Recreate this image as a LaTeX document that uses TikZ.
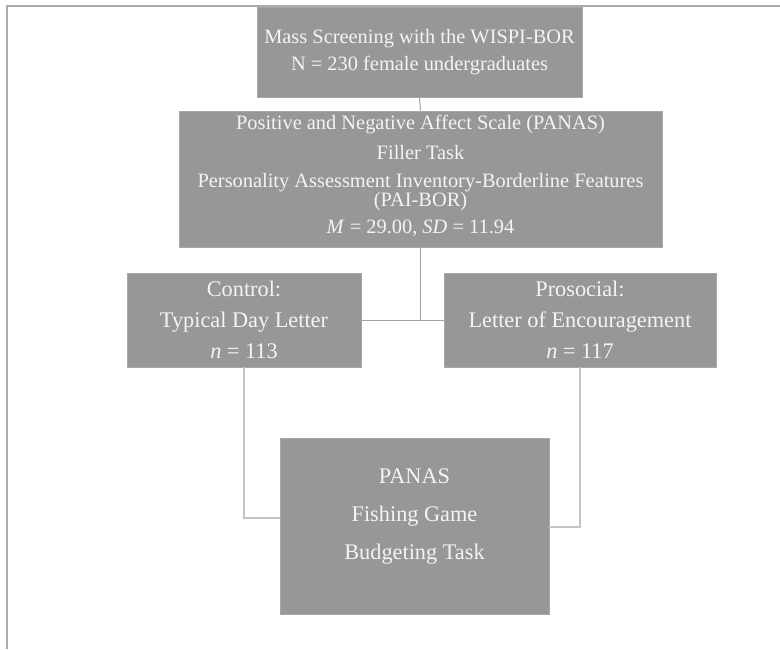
\documentclass[tikz,border=0pt]{standalone}
\usepackage{fontspec}
\setmainfont{Liberation Serif}
\definecolor{boxfill}{HTML}{979797}
\definecolor{boxtext}{HTML}{F4F4F4}
\definecolor{frameline}{HTML}{ABABAB}
\definecolor{linkdark}{HTML}{A4A4A4}
\definecolor{linklight}{HTML}{C4C4C4}
\tikzset{
  stagebox/.style={rectangle, fill=boxfill, draw=boxfill!85!white, line width=0.6pt, inner sep=0pt, align=center, text=boxtext},
  smalltext/.style={font=\fontsize{20.4}{27}\selectfont},
  bigtext/.style={font=\fontsize{22.3}{31}\selectfont},
  linkup/.style={draw=linkdark, line width=1pt},
  linkdown/.style={draw=linklight, line width=1.6pt},
  frame/.style={draw=frameline, line width=2pt}
}
\begin{document}
\begin{tikzpicture}[x=1pt,y=-1pt]
\useasboundingbox (0,0) rectangle (780,649);
\fill[white] (0,0) rectangle (780,649);
\draw[frame] (7,649) -- (7,6) -- (780,6);

\node[stagebox, smalltext, minimum width=325pt, minimum height=90pt] (box1) at (419.5,52)
  {Mass Screening with the WISPI-BOR\\N = 230 female undergraduates};

\node[stagebox, minimum width=483pt, minimum height=136pt] (box2) at (420.5,179) {};
\node[text=boxtext, align=center, inner sep=0pt, font=\fontsize{20.4}{18.3}\selectfont] (box2t) at (420.5,176)
  {Positive and Negative Affect Scale (PANAS)\\[10pt]
   Filler Task\\[10pt]
   Personality Assessment Inventory-Borderline Features\\
   (PAI-BOR)\\[8.4pt]
   \textit{M} = 29.00, \textit{SD} = 11.94};

\node[stagebox, bigtext, minimum width=234pt, minimum height=94pt] (ctrl) at (244,320)
  {Control:\\Typical Day Letter\\\textit{n} = 113};
\node[stagebox, bigtext, minimum width=272pt, minimum height=94pt] (pro) at (580,320)
  {Prosocial:\\Letter of Encouragement\\\textit{n} = 117};

\node[stagebox, minimum width=269pt, minimum height=176pt] (fin) at (414.5,526) {};
\node[text=boxtext, align=center, inner sep=0pt, font=\fontsize{22.3}{38}\selectfont] (fint) at (414.5,516.5)
  {PANAS\\Fishing Game\\Budgeting Task};

\coordinate (join) at (box2.south |- ctrl.east);
\draw[linkup] (box1.south) -- (box2.north);
\draw[linkup] (box2.south) -- (join);
\draw[linkup] (ctrl.east) -- (pro.west);
\draw[linkdown] (ctrl.south) |- ([yshift=8pt]fin.west);
\draw[linkdown] (pro.south) |- ([yshift=-1pt]fin.east);
\end{tikzpicture}
\end{document}
